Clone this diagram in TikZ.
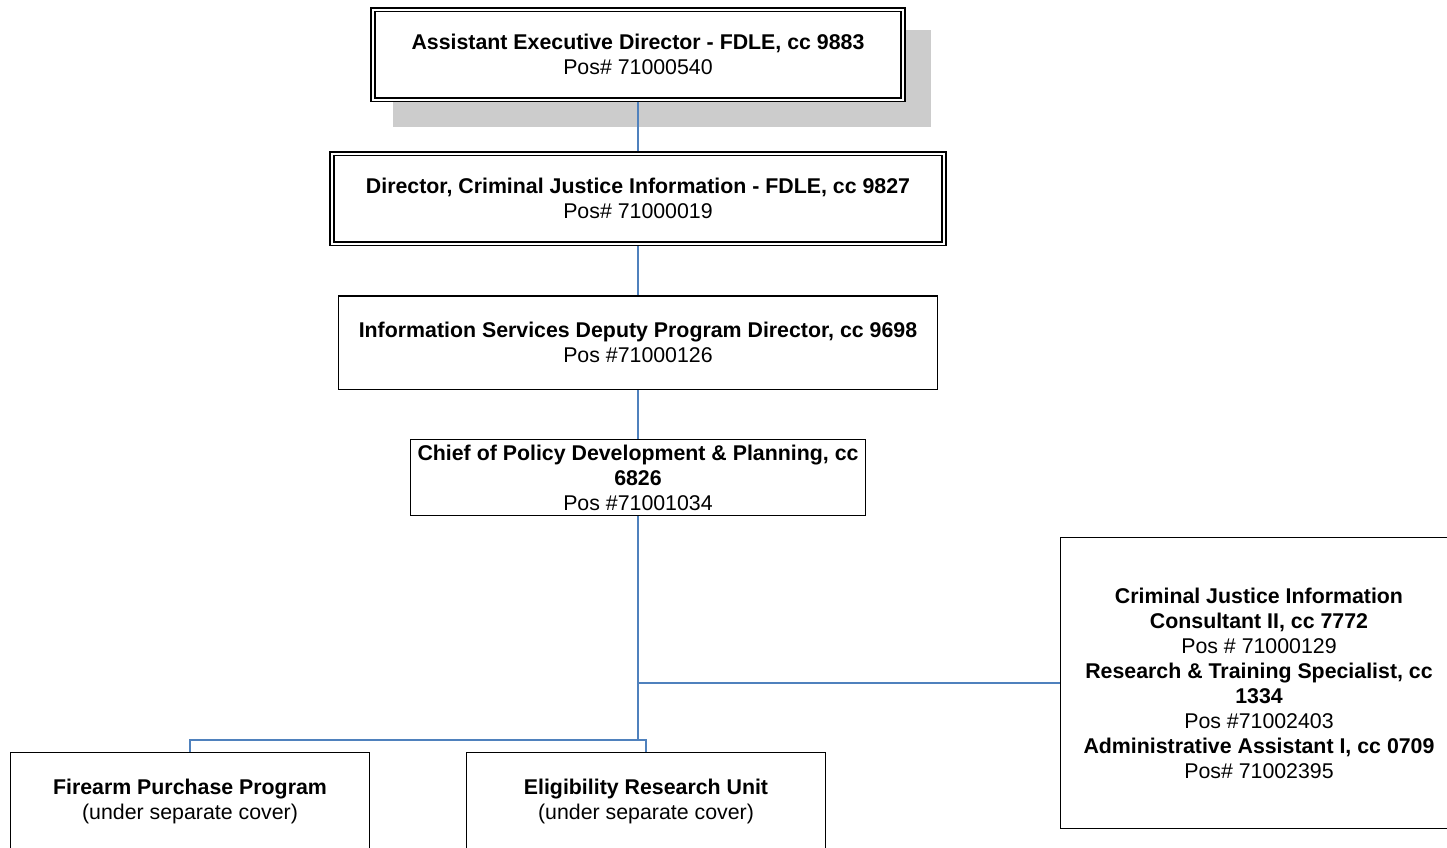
\documentclass[tikz,border=0pt]{standalone}
\usepackage{fontspec}
\setmainfont{Liberation Sans}
\usetikzlibrary{calc,backgrounds}
\definecolor{linkblue}{RGB}{79,129,189}
\definecolor{shadowgray}{RGB}{204,204,204}

\begin{document}
\begin{tikzpicture}[x=0.75pt,y=-0.75pt,font=\fontsize{16}{18.75}\selectfont,
  post/.style={draw,fill=white,line width=1pt,align=center,inner sep=0pt,outer sep=0pt},
  head/.style={post,line width=1.2pt,double,double distance=1.5pt},
  link/.style={linkblue,line width=1.5pt}]
\useasboundingbox (0,0) rectangle (1447,847);
\clip (0,0) rectangle (1447,847);
% ---------------- chain of command ----------------
\node[head,minimum width=397.5pt,minimum height=67.5pt] (aed) at (638,54.5)
  {\textbf{Assistant Executive Director - FDLE, cc 9883}\\Pos\# 71000540};
\node[head,minimum width=459pt,minimum height=67.5pt] (dir) at (638,198.5)
  {\textbf{Director, Criminal Justice Information - FDLE, cc 9827}\\Pos\# 71000019};
\node[post,minimum width=449pt,minimum height=70pt] (isd) at (638,342.5)
  {\textbf{Information Services Deputy Program Director, cc 9698}\\Pos \#71000126};
\node[post,minimum width=341.6pt,minimum height=56.6pt] (cpd) at (638,477.5)
  {\textbf{Chief of Policy Development \& Planning, cc}\\\textbf{6826}\\Pos \#71001034};
% ---------------- units and staff ----------------
\node[post,minimum width=269pt,minimum height=72.75pt] (fpp) at (190,801)
  {\textbf{Firearm Purchase Program}\\(under separate cover)};
\node[post,minimum width=269pt,minimum height=72.75pt] (eru) at (646,801)
  {\textbf{Eligibility Research Unit}\\(under separate cover)};
\node[post,minimum width=298pt,minimum height=218pt] (staff) at (1259,683)
  {\textbf{Criminal Justice Information}\\\textbf{Consultant II, cc 7772}\\Pos \# 71000129\\
   \textbf{Research \& Training Specialist, cc}\\\textbf{1334}\\Pos \#71002403\\
   \textbf{Administrative Assistant I, cc 0709}\\Pos\# 71002395};
\coordinate (bus) at (638,740);
% shadow and connectors go behind the boxes
\begin{scope}[on background layer]
  \fill[shadowgray] ($(aed.north west)+(20.4,20.4)$) rectangle ($(aed.south east)+(27.6,27.6)$);
  \draw[link] (aed.south) -- (dir.north);
  \draw[link] (dir.south) -- (isd.north);
  \draw[link] (isd.south) -- (cpd.north);
  \draw[link] (cpd.south) -- (bus);
  \draw[link] (cpd.south |- staff.west) -- (staff.west);
  \draw[link] (fpp.north) |- (bus) -| (eru.north);
\end{scope}
\end{tikzpicture}
\end{document}
